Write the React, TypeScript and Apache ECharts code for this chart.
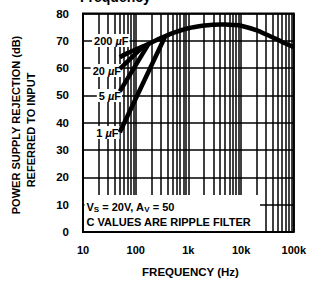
import React, { useEffect, useRef } from "react";
import * as echarts from "echarts";

// Tick labels
const xTickValues = [10, 100, 1000, 10000, 100000];
const xTickLabels = ["10", "100", "1k", "10k", "100k"];
const yTickValues = [0, 10, 20, 30, 40, 50, 60, 70, 80];

// Minor log grid lines (Hz)
const minorFreqs = [
  20, 30, 40, 50, 60, 70, 80, 90,
  200, 300, 400, 500, 600, 700, 800, 900,
  2000, 3000, 4000, 5000, 6000, 7000, 8000, 9000,
  20000, 30000, 40000, 50000, 60000, 70000, 80000, 90000,
];

// 200 uF (common envelope)
const freq200 = [50, 70, 100, 150, 200, 300, 500, 1000, 2000, 3000, 4000, 5000, 7000, 10000, 20000, 30000, 50000, 70000, 100000];
const psrr200 = [64.0, 65.5, 66.8, 68.3, 69.4, 71.0, 72.8, 74.6, 75.6, 75.9, 76.0, 75.95, 75.8, 75.5, 73.8, 72.3, 70.4, 69.0, 67.7];
// 20 uF
const freq20 = [50, 142];
const psrr20 = [59.7, 68.1];
// 5 uF
const freq5 = [50, 177];
const psrr5 = [51.5, 69.0];
// 1 uF
const freq1 = [50, 360];
const psrr1 = [36.5, 71.5];

const capLabels = ["200 ", "20 ", "5 ", "1 "];

const FONT = "'Liberation Sans', Arial, Helvetica, sans-serif";

const pairs = (xs: number[], ys: number[]) => xs.map((x, i) => [x, ys[i]]);

export default function App() {
  const ref = useRef<HTMLDivElement>(null);
  useEffect(() => {
    document.body.style.margin = "0";
    const chart = echarts.init(ref.current!, null, { renderer: "svg" });
    const curveStyle = { color: "#000", width: 4.5, cap: "butt" as const };
    const curve = (name: string, xs: number[], ys: number[], smooth: boolean | number) => ({
      name,
      type: "line",
      data: pairs(xs, ys),
      showSymbol: false,
      symbol: "none",
      smooth,
      lineStyle: curveStyle,
      z: 40,
      silent: true,
    });
    const labelBox = (t: string, right: number, cy: number) => ({
      type: "text",
      z: 30,
      x: right,
      y: cy,
      style: {
        text: t + "{mu|µ}F",
        font: `bold 11px ${FONT}`,
        fill: "#000",
        align: "right",
        verticalAlign: "middle",
        backgroundColor: "#fff",
        padding: [1, 1, 1, 2],
        rich: { mu: { fontStyle: "italic", fontWeight: "bold", fontSize: 11, fontFamily: FONT } },
      },
    });
    chart.setOption({
      animation: false,
      grid: {
        left: 83,
        right: 11,
        top: 13.5,
        bottom: 51,
        show: true,
        borderColor: "#000",
        borderWidth: 2,
      },
      xAxis: {
        type: "log",
        logBase: 10,
        min: 10,
        max: 100000,
        axisLine: { show: false },
        axisTick: { show: false },
        splitLine: { show: true, lineStyle: { color: "#000", width: 1.5 } },
        axisLabel: {
          margin: 12,
          color: "#000",
          fontWeight: "bold",
          fontSize: 11,
          fontFamily: FONT,
          formatter: (v: number) => {
            const i = xTickValues.findIndex((t) => Math.abs(Math.log10(t) - Math.log10(v)) < 1e-6);
            return i >= 0 ? xTickLabels[i] : "";
          },
        },
      },
      yAxis: {
        type: "value",
        min: yTickValues[0],
        max: yTickValues[yTickValues.length - 1],
        interval: 10,
        axisLine: { show: false },
        axisTick: { show: false },
        splitLine: { show: true, lineStyle: { color: "#000", width: 1.5 } },
        axisLabel: {
          margin: 14,
          color: "#000",
          fontWeight: "bold",
          fontSize: 11.5,
          fontFamily: FONT,
        },
      },
      series: [
        {
          type: "line",
          data: [],
          z: 1,
          silent: true,
          markLine: {
            z: 1,
            silent: true,
            symbol: ["none", "none"],
            label: { show: false },
            lineStyle: { color: "#000", width: 1.5, type: "solid" },
            emphasis: { disabled: true },
            data: minorFreqs.map((f) => ({ xAxis: f })),
          },
        },
        curve("200uF", freq200, psrr200, 0.3),
        curve("20uF", freq20, psrr20, false),
        curve("5uF", freq5, psrr5, false),
        curve("1uF", freq1, psrr1, false),
      ],
      graphic: {
        elements: [
          {
            type: "text",
            z: 30,
            x: 80,
            y: 4,
            style: {
              text: "Frequency",
              font: `bold 14px ${FONT}`,
              fill: "#000",
              align: "left",
              verticalAlign: "bottom",
            },
          },
          {
            type: "text",
            z: 30,
            x: 15.5,
            y: 125,
            rotation: Math.PI / 2,
            style: {
              text: "POWER SUPPLY REJECTION (dB)",
              font: `bold 11px ${FONT}`,
              fill: "#000",
              align: "center",
              verticalAlign: "middle",
            },
          },
          {
            type: "text",
            z: 30,
            x: 31,
            y: 130,
            rotation: Math.PI / 2,
            style: {
              text: "REFERRED TO INPUT",
              font: `bold 11px ${FONT}`,
              fill: "#000",
              align: "center",
              verticalAlign: "middle",
            },
          },
          {
            type: "text",
            z: 30,
            x: 190.5,
            y: 271.5,
            style: {
              text: "FREQUENCY (Hz)",
              font: `bold 11.5px ${FONT}`,
              fill: "#000",
              align: "center",
              verticalAlign: "middle",
            },
          },
          labelBox(capLabels[0], 129.5, 40.5),
          labelBox(capLabels[1], 122, 70.5),
          labelBox(capLabels[2], 122, 95.5),
          labelBox(capLabels[3], 119.5, 132.5),
          {
            type: "rect",
            z: 30,
            shape: { x: 84.5, y: 195, width: 175.5, height: 36 },
            style: { fill: "#fff" },
          },
          {
            type: "text",
            z: 31,
            x: 86.5,
            y: 206.5,
            style: {
              text: "V{s|S} = 20V, A{s|V} = 50",
              font: `bold 11px ${FONT}`,
              fill: "#000",
              align: "left",
              verticalAlign: "middle",
              rich: { s: { fontSize: 8, fontWeight: "bold", fontFamily: FONT, verticalAlign: "bottom", lineHeight: 13 } },
            },
          },
          {
            type: "text",
            z: 31,
            x: 86.5,
            y: 221.5,
            style: {
              text: "C VALUES ARE RIPPLE FILTER",
              font: `bold 11px ${FONT}`,
              fill: "#000",
              align: "left",
              verticalAlign: "middle",
            },
          },
        ],
      },
    });
    return () => chart.dispose();
  }, []);
  return <div ref={ref} style={{ width: 309, height: 283 }} />;
}
